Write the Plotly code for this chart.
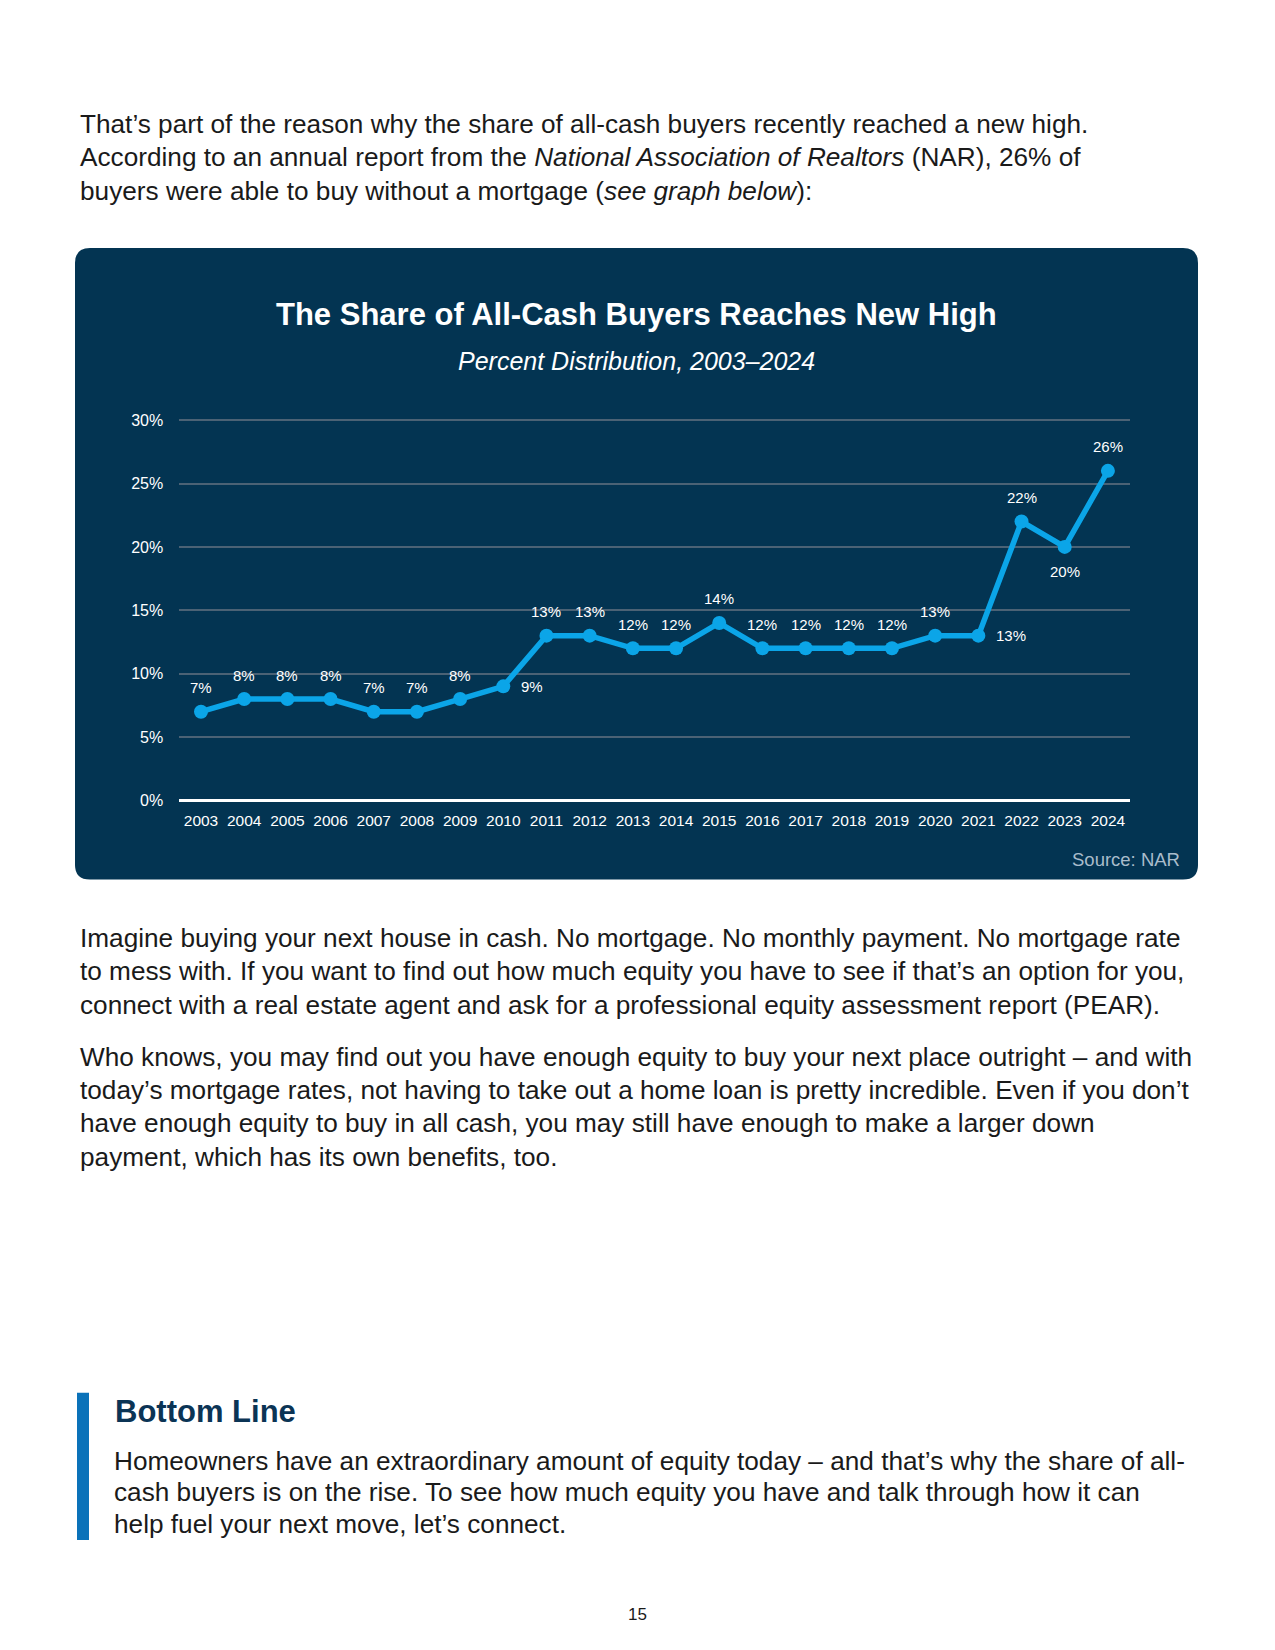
import plotly.graph_objects as go

# ---------------- data ----------------
years = list(range(2003, 2025))
share = [7, 8, 8, 8, 7, 7, 8, 9, 13, 13, 12, 12, 14, 12, 12, 12, 12, 13, 13, 22, 20, 26]
label_side = ["above"] * 7 + ["right"] + ["above"] * 10 + ["right", "above", "below", "above"]
y_ticks = [0, 5, 10, 15, 20, 25, 30]

OFF = 8  # browser body margin
PAGE_W, PAGE_H = 1275, 1650
W, H = PAGE_W - 2 * OFF, PAGE_H - 2 * OFF
FONT = "Liberation Sans, Arial, sans-serif"
NAVY = "#033452"
LINE = "#0BA5E8"

def px(x):
    return (x - OFF) / W

def py(y):
    yp = (y - 7.2) / 0.9895
    return 1 - (yp - OFF) / H

fig = go.Figure()
fig.add_trace(go.Scatter(
    x=years, y=share, mode="lines+markers",
    line=dict(color=LINE, width=5.5),
    marker=dict(color=LINE, size=14),
    cliponaxis=False, hoverinfo="skip", showlegend=False,
))

ann = []
for yr, v, side in zip(years, share, label_side):
    a = dict(x=yr, y=v, xref="x", yref="y", text=f"{v}%", showarrow=False,
             font=dict(family=FONT, size=15, color="white"))
    if side == "above":
        a.update(xanchor="center", yanchor="middle", yshift=24)
    elif side == "below":
        a.update(xanchor="center", yanchor="middle", yshift=-25)
    else:
        a.update(xanchor="left", yanchor="middle", xshift=16)
    ann.append(a)

# rounded chart box
x0, x1, y0, y1, r = px(75), px(1198), py(879), py(248), 15
rx, ry = r / W, r / H
path = (f"M {x0+rx},{y1} L {x1-rx},{y1} Q {x1},{y1} {x1},{y1-ry} "
        f"L {x1},{y0+ry} Q {x1},{y0} {x1-rx},{y0} L {x0+rx},{y0} "
        f"Q {x0},{y0} {x0},{y0+ry} L {x0},{y1-ry} Q {x0},{y1} {x0+rx},{y1} Z")
shapes = [
    dict(type="path", xref="paper", yref="paper", path=path, fillcolor=NAVY,
         line=dict(width=0), layer="below"),
    dict(type="rect", xref="paper", yref="paper", x0=px(77), x1=px(89), y0=py(1539), y1=py(1392),
         fillcolor="#0A72B9", line=dict(width=0)),
]

def text(x, y, s, size=26.2, color="#1a1a1a", xanchor="left", bold=False):
    ann.append(dict(x=px(x), y=py(y), xref="paper", yref="paper", text=(f"<b>{s}</b>" if bold else s),
                    showarrow=False, xanchor=xanchor, yanchor="middle",
                    font=dict(family=FONT, size=size, color=color)))

p1 = ["That’s part of the reason why the share of all-cash buyers recently reached a new high.",
      "According to an annual report from the <i>National Association of Realtors</i> (NAR), 26% of",
      "buyers were able to buy without a mortgage (<i>see graph below</i>):"]
for i, s in enumerate(p1):
    text(78, 124 + i * 33.5, s)

p2 = ["Imagine buying your next house in cash. No mortgage. No monthly payment. No mortgage rate",
      "to mess with. If you want to find out how much equity you have to see if that’s an option for you,",
      "connect with a real estate agent and ask for a professional equity assessment report (PEAR)."]
for i, s in enumerate(p2):
    text(78, 937 + i * 33.5, s)

p3 = ["Who knows, you may find out you have enough equity to buy your next place outright – and with",
      "today’s mortgage rates, not having to take out a home loan is pretty incredible. Even if you don’t",
      "have enough equity to buy in all cash, you may still have enough to make a larger down",
      "payment, which has its own benefits, too."]
for i, s in enumerate(p3):
    text(78, 1056 + i * 33.4, s)

text(113, 1411, "Bottom Line", size=31, color="#0B3455", bold=True)
p4 = ["Homeowners have an extraordinary amount of equity today – and that’s why the share of all-",
      "cash buyers is on the rise. To see how much equity you have and talk through how it can",
      "help fuel your next move, let’s connect."]
for i, s in enumerate(p4):
    text(112, 1460 + i * 31.5, s)

text(637, 1613, "15", size=17, xanchor="center")

# chart titles
text(636, 314, "The Share of All-Cash Buyers Reaches New High", size=31, color="white", xanchor="center", bold=True)
text(636, 361, "<i>Percent Distribution, 2003–2024</i>", size=25, color="white", xanchor="center")
ann.append(dict(x=px(1182), y=py(859), xref="paper", yref="paper", text="Source: NAR", showarrow=False,
                xanchor="right", yanchor="middle", font=dict(family=FONT, size=18.5, color="#A9BCCB")))

fig.update_layout(
    width=W, height=H, autosize=False,
    margin=dict(l=0, r=0, t=0, b=0),
    paper_bgcolor="white", plot_bgcolor="rgba(0,0,0,0)",
    shapes=shapes, annotations=ann,
    xaxis=dict(domain=[px(179.4), px(1129.5)], range=[2002.5, 2024.5],
               tickvals=years, ticktext=[str(y) for y in years],
               showgrid=False, zeroline=False, showline=False,
               ticks="outside", ticklen=6, tickcolor="rgba(0,0,0,0)",
               tickfont=dict(family=FONT, size=15.5, color="white"), fixedrange=True),
    yaxis=dict(domain=[py(800), py(418.7)], range=[0, 30.1], tickvals=y_ticks,
               ticktext=[f"{v}%" for v in y_ticks],
               showgrid=True, gridcolor="#4B6275", gridwidth=1.5,
               zeroline=True, zerolinecolor="white", zerolinewidth=3,
               showline=False, ticks="outside", ticklen=12, tickcolor="rgba(0,0,0,0)",
               tickfont=dict(family=FONT, size=16, color="white"), fixedrange=True),
)

fig.write_html("out.html")
